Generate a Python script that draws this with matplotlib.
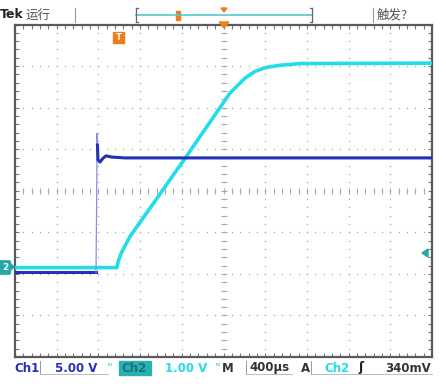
import matplotlib
matplotlib.use("Agg")
import matplotlib.pyplot as plt
from matplotlib.patches import FancyBboxPatch, Rectangle, Polygon
import numpy as np

plt.rcParams['font.family'] = ['DejaVu Sans', 'Noto Sans CJK SC']

# ---- data (time in µs relative to trigger, voltage in V) ----
ch1_t = [-988, -211, -205, -201, -197, -192, -173, -144, -115, -58, 67, 3012]
ch1_v = [0.0, 0.0, 8.0, 16.7, 15.3, 13.5, 13.25, 13.7, 14.0, 13.85, 13.75, 13.75]
ch2_t = [-988, -10, 0, 29, 115, 307, 643, 1074, 1218, 1314, 1410, 1554, 1746, 3012]
ch2_v = [0.0, 0.0, 0.13, 0.34, 0.75, 1.43, 2.63, 4.20, 4.56, 4.72, 4.81, 4.87, 4.91, 4.92]

ch1_scale = 5.0      # V/div
ch2_scale = 1.0      # V/div
time_scale = 400.0   # µs/div
trig_pos = 2.47      # div from left
ch1_gnd = -1.96      # div
ch2_gnd = -1.85      # div
trig_level = 0.34    # V

top_labels = ["Tek", "运行", "触发?"]
bottom_labels = ["Ch1", "5.00 V", "Ch2", "1.00 V", "M", "400µs", "A", "Ch2", "340mV"]

C1 = '#2330b8'
C2 = '#22dde8'
TEAL = '#25a8a8'
ORANGE = '#f07d1a'
GRID = '#a8a8a8'

W, H = 446, 387
fig = plt.figure(figsize=(W/100, H/100), dpi=100)
fig.patch.set_facecolor('white')
ax = fig.add_axes([15/W, 30/H, 417/W, 332.5/H])
ax.set_xlim(0, 10)
ax.set_ylim(-4, 4)
for s in ax.spines.values():
    s.set_color('#5a5a5a')
    s.set_linewidth(1.6)
ax.set_xticks(np.arange(0, 11, 1))
ax.set_yticks(np.arange(-4, 5, 1))
ax.set_xticks(np.arange(0, 10.01, 0.2), minor=True)
ax.set_yticks(np.arange(-4, 4.01, 0.2), minor=True)
ax.tick_params(which='both', direction='in', top=True, right=True,
               labelbottom=False, labelleft=False, color='#777777', width=0.8)
ax.tick_params(which='major', length=3)
ax.tick_params(which='minor', length=3)

# dotted grid
for k in range(1, 10):
    ys = np.arange(-4, 4.01, 0.2)
    ax.plot(np.full_like(ys, k), ys, ls='none', marker='s', ms=0.9,
            color=GRID, mew=0, zorder=1)
for k in range(-3, 4):
    xs = np.arange(0, 10.01, 0.2)
    ax.plot(xs, np.full_like(xs, k), ls='none', marker='s', ms=0.9,
            color=GRID, mew=0, zorder=1)
# center crosshair ticks
ys = np.arange(-4, 4.01, 0.2)
ax.plot(np.full_like(ys, 5), ys, ls='none', marker='_', ms=4, color=GRID, mew=0.8)
xs = np.arange(0, 10.01, 0.2)
ax.plot(xs, np.zeros_like(xs), ls='none', marker='|', ms=4, color=GRID, mew=0.8)

# traces
x2 = np.array(ch2_t) / time_scale + trig_pos
y2 = np.array(ch2_v) / ch2_scale + ch2_gnd
x1 = np.array(ch1_t) / time_scale + trig_pos
y1 = np.array(ch1_v) / ch1_scale + ch1_gnd
ax.plot(x2, y2, color=C2, lw=2.6, solid_joinstyle='round', zorder=3)
ax.plot(x1[:2], y1[:2], color=C1, lw=2.2, zorder=4)
ax.plot(x1[1:5], y1[1:5], color='#8a8fe0', lw=0.9, zorder=4)
ax.plot(x1[4:], y1[4:], color=C1, lw=2.2, solid_joinstyle='round', zorder=4)

# ---- figure-level decorations (pixel coords) ----
def px(x, y):
    return x / W, 1 - y / H

fig.text(*px(0, 15), top_labels[0], fontsize=9, fontweight='bold', color='#222222', va='center')
fig.text(*px(26, 15), top_labels[1], fontsize=9, color='#555555', va='center',
         family=['Noto Sans CJK SC'])
fig.text(*px(377, 15), top_labels[2], fontsize=9, color='#555555', va='center',
         family=['Noto Sans CJK SC', 'DejaVu Sans'])
for xx in (75, 373):
    fig.add_artist(plt.Line2D([xx/W, xx/W], [1-8/H, 1-22/H], color='#999999', lw=0.8))
# record-length bracket
fig.add_artist(plt.Line2D([136/W, 312/W], [1-15/H, 1-15/H], color='#55c8cc', lw=1.2))
for xx, d in ((136, 2), (312, -2)):
    fig.add_artist(plt.Line2D([xx/W, xx/W], [1-8/H, 1-22/H], color='#666666', lw=0.9))
    fig.add_artist(plt.Line2D([xx/W, (xx+d)/W], [1-8/H, 1-8/H], color='#666666', lw=0.9))
    fig.add_artist(plt.Line2D([xx/W, (xx+d)/W], [1-22/H, 1-22/H], color='#666666', lw=0.9))
fig.add_artist(Rectangle(px(176, 20), 4/W, 9/H, color=ORANGE))
fig.add_artist(Polygon([px(221, 8), px(227, 8), px(224, 12)], color=ORANGE))
fig.add_artist(Polygon([px(219, 22), px(229, 22), px(224, 28)], color=ORANGE))
# trigger position marker
fig.add_artist(Rectangle(px(113, 43), 11/W, 11/H, color=ORANGE))
fig.text(*px(118.5, 37.5), "T", fontsize=6, color='white', fontweight='bold',
         ha='center', va='center')
# channel 2 ground marker
fig.add_artist(FancyBboxPatch(px(0, 273), 9/W, 11/H, boxstyle='round,pad=0.003',
                              color=TEAL))
fig.add_artist(Polygon([px(9, 272), px(9, 262), px(14, 267)], color=TEAL))
fig.text(*px(5, 267.5), "2", fontsize=6.5, color='white', fontweight='bold',
         ha='center', va='center')
# trigger level marker
fig.add_artist(Polygon([px(422, 253), px(428, 249), px(428, 257)], color=TEAL))

# bottom status bar
by = 368
fig.text(*px(14, by), bottom_labels[0], fontsize=8.5, fontweight='bold', color=C1, va='center')
fig.add_artist(plt.Line2D([40/W, 40/W], [1-361/H, 1-374/H], color='#999999', lw=0.7))
fig.add_artist(plt.Line2D([40/W, 108/W], [1-374/H, 1-374/H], color='#bbbbbb', lw=0.7))
fig.text(*px(55, by), bottom_labels[1], fontsize=8.5, fontweight='bold', color=C1, va='center')
fig.text(*px(108, by-2), "ᴺ", fontsize=6, color=TEAL, va='center')
fig.add_artist(Rectangle(px(119, 375), 32/W, 14/H, color='#2bb0b0'))
fig.text(*px(121, by), bottom_labels[2], fontsize=8.5, fontweight='bold', color='#1a6f80', va='center')
fig.text(*px(165, by), bottom_labels[3], fontsize=8.5, fontweight='bold', color=C2, va='center')
fig.text(*px(215, by-2), "ᴺ", fontsize=6, color=TEAL, va='center')
fig.text(*px(222, by), bottom_labels[4], fontsize=8.5, fontweight='bold', color='#333333', va='center')
fig.add_artist(plt.Line2D([246/W, 246/W], [1-361/H, 1-374/H], color='#999999', lw=0.7))
fig.add_artist(plt.Line2D([246/W, 292/W], [1-374/H, 1-374/H], color='#bbbbbb', lw=0.7))
fig.text(*px(249, by), bottom_labels[5], fontsize=8.5, fontweight='bold', color='#333333', va='center')
fig.text(*px(301, by), bottom_labels[6], fontsize=8.5, fontweight='bold', color='#333333', va='center')
fig.add_artist(plt.Line2D([311/W, 311/W], [1-361/H, 1-374/H], color='#999999', lw=0.7))
fig.add_artist(plt.Line2D([311/W, 432/W], [1-374/H, 1-374/H], color='#bbbbbb', lw=0.7))
fig.text(*px(324, by), bottom_labels[7], fontsize=8.5, fontweight='bold', color=C2, va='center')
fig.text(*px(358, by), "ʃ", fontsize=9, fontweight='bold', color='#222222', va='center')
fig.text(*px(385, by), bottom_labels[8], fontsize=8.5, fontweight='bold', color='#333333', va='center')

fig.savefig('out.png', dpi=100, facecolor='white')
